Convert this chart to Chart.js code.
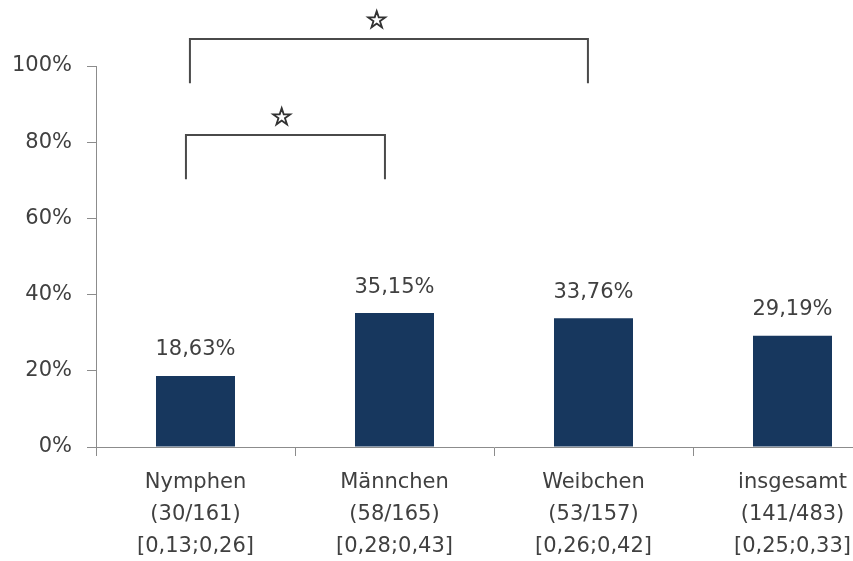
<!DOCTYPE html>
<html>
<head>
<meta charset="utf-8">
<script src="https://cdn.jsdelivr.net/npm/chart.js@4.4.0/dist/chart.umd.min.js"></script>
<style>
    html, body { margin: 0; padding: 0; background: #fff; overflow: hidden; }
    #wrap { width: 892px; height: 561px; }
</style>
</head>
<body>
<div id="wrap"><canvas id="chart" width="892" height="561"></canvas></div>
<script>
// Groups and their sample info
const groups = ['Nymphen', 'Männchen', 'Weibchen', 'insgesamt'];
const counts = ['(30/161)', '(58/165)', '(53/157)', '(141/483)'];
const intervals = ['[0,13;0,26]', '[0,28;0,43]', '[0,26;0,42]', '[0,25;0,33]'];

// Share in percent
const shares = [18.63, 35.15, 33.76, 29.19];

// Y axis ticks
const yTicks = [0, 20, 40, 60, 80, 100];

// Significance brackets (x in category index units, y in percent)
const bracketFrom = [-0.048, -0.028];
const bracketTo = [0.952, 1.972];
const bracketTop = [81.9, 107.1];
const bracketFoot = [70.3, 95.5];
const starX = [0.433, 0.911];
const starY = [86.1, 111.6];

const textColor = '#404040';
const axisColor = '#8c8c8c';

Chart.defaults.font.family = '"DejaVu Sans", sans-serif';
Chart.defaults.color = textColor;

function formatShare(v) {
    return v.toFixed(2).replace('.', ',') + '%';
}

// Value labels above the bars
const valueLabels = {
    id: 'valueLabels',
    afterDatasetsDraw(chart) {
        const ctx = chart.ctx;
        const meta = chart.getDatasetMeta(0);
        ctx.save();
        ctx.font = '21px "DejaVu Sans"';
        ctx.fillStyle = textColor;
        ctx.textAlign = 'center';
        ctx.textBaseline = 'middle';
        meta.data.forEach((bar, i) => {
            ctx.fillText(formatShare(shares[i]), bar.x, bar.y - 26);
        });
        ctx.restore();
    }
};

// Brackets with stars
const brackets = {
    id: 'brackets',
    afterDraw(chart) {
        const ctx = chart.ctx;
        const x = chart.scales.x;
        const y = chart.scales.y;
        ctx.save();
        for (let i = 0; i < bracketFrom.length; i++) {
            const x1 = x.getPixelForValue(bracketFrom[i]);
            const x2 = x.getPixelForValue(bracketTo[i]);
            const yt = y.getPixelForValue(bracketTop[i]);
            const yf = y.getPixelForValue(bracketFoot[i]);
            ctx.strokeStyle = '#4a4a4a';
            ctx.lineWidth = 2;
            ctx.beginPath();
            ctx.moveTo(x1, yf);
            ctx.lineTo(x1, yt);
            ctx.lineTo(x2, yt);
            ctx.lineTo(x2, yf);
            ctx.stroke();

            // star drawn twice to thicken the outline
            const sx = x.getPixelForValue(starX[i]);
            const sy = y.getPixelForValue(starY[i]);
            ctx.font = '25px "DejaVu Sans"';
            ctx.fillStyle = '#333';
            ctx.strokeStyle = '#333';
            ctx.lineWidth = 1.1;
            ctx.textAlign = 'center';
            ctx.textBaseline = 'middle';
            ctx.fillText('\u2606', sx, sy);
            ctx.strokeText('\u2606', sx, sy);
        }
        ctx.restore();
    }
};

const ctx = document.getElementById('chart').getContext('2d');

new Chart(ctx, {
    type: 'bar',
    data: {
        labels: groups.map((g, i) => [g, counts[i], intervals[i]]),
        datasets: [{
            data: shares,
            backgroundColor: '#17375e',
            categoryPercentage: 1,
            barPercentage: 0.397
        }]
    },
    options: {
        responsive: false,
        animation: false,
        layout: {
            padding: { top: 66, right: 0, bottom: 0, left: 0 }
        },
        scales: {
            x: {
                grid: {
                    offset: true,
                    drawOnChartArea: false,
                    tickLength: 9,
                    color: axisColor
                },
                border: { color: axisColor },
                ticks: {
                    font: { size: 21, lineHeight: 1.52 },
                    color: textColor,
                    padding: 11,
                    maxRotation: 0,
                    autoSkip: false
                },
                afterFit(scale) { scale.height = 114; }
            },
            y: {
                min: 0,
                max: 100,
                grid: {
                    drawOnChartArea: false,
                    tickLength: 9,
                    color: axisColor
                },
                border: { color: axisColor },
                afterBuildTicks(scale) {
                    scale.ticks = yTicks.map(v => ({ value: v }));
                },
                ticks: {
                    font: { size: 21 },
                    color: textColor,
                    padding: 15,
                    callback: v => v + '%'
                },
                afterFit(scale) { scale.width = 96; }
            }
        },
        plugins: {
            legend: { display: false },
            tooltip: { enabled: false }
        }
    },
    plugins: [valueLabels, brackets]
});
</script>
</body>
</html>
